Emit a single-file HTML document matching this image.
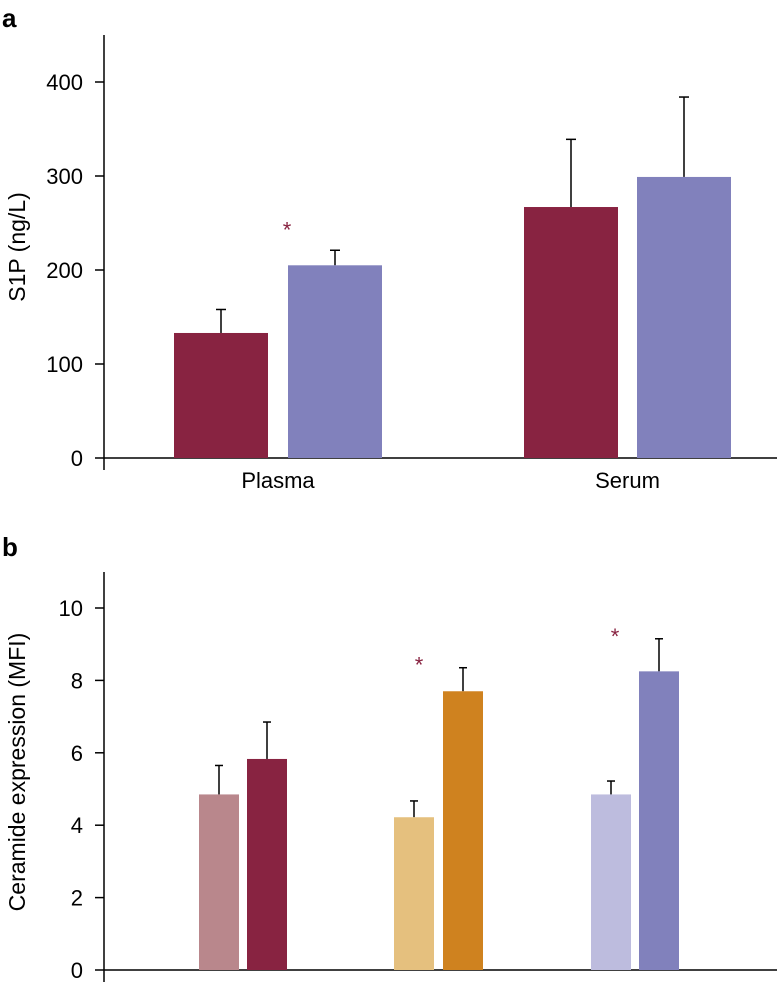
<!DOCTYPE html>
<html><head><meta charset="utf-8"><style>
body{margin:0;background:#fff}
text{font-family:"Liberation Sans",sans-serif}
</style></head><body>
<svg id="c" width="777" height="985" xmlns="http://www.w3.org/2000/svg"></svg>
<script>
const aGroups=["Plasma","Serum"];
const aValues=[133,205,267,299];
const aErrors=[158,221,339,384];
const aTicks=[0,100,200,300,400];
const aStars=[1];
const bValues=[4.85,5.83,4.22,7.7,4.85,8.25];
const bErrors=[5.65,6.85,4.67,8.35,5.22,9.15];
const bTicks=[0,2,4,6,8,10];
const bStars=[3,5];
const NS="http://www.w3.org/2000/svg";
const svg=document.getElementById('c');
function el(t,a,p){const e=document.createElementNS(NS,t);for(const k in a)e.setAttribute(k,a[k]);(p||svg).appendChild(e);return e;}
function txt(x,y,s,a,p){const e=el('text',Object.assign({x:x,y:y},a),p);e.textContent=s;return e;}
let t=txt(2,27,"a",{"font-size":26,"font-weight":"bold"});

t=txt(2,556,"b",{"font-size":26,"font-weight":"bold"});

// Panel a
const ya=v=>458-v*0.94;
let g=el('g',{});
el('line',{x1:104,y1:35,x2:104,y2:470,stroke:'#000','stroke-width':1.5},g);
el('line',{x1:104,y1:458,x2:777,y2:458,stroke:'#000','stroke-width':1.5},g);
aTicks.forEach(v=>{el('line',{x1:95,y1:ya(v),x2:104,y2:ya(v),stroke:'#000','stroke-width':1.5},g);
 txt(83,ya(v)+8,String(v),{"font-size":22,"text-anchor":"end"},g);});
t=txt(25,247,"S1P (ng/L)",{"font-size":23,"text-anchor":"middle",transform:"rotate(-90 25 247)"});

const aX=[174,288,524,637],aCol=['#882341','#8181bc','#882341','#8181bc'];
aValues.forEach((v,i)=>{
 const cx=aX[i]+47;
 const e=el('line',{x1:cx,y1:ya(v),x2:cx,y2:ya(aErrors[i]),stroke:'#000','stroke-width':1.5});
 
 el('line',{x1:cx-5,y1:ya(aErrors[i]),x2:cx+5,y2:ya(aErrors[i]),stroke:'#000','stroke-width':1.5});
 const r=el('rect',{x:aX[i],y:ya(v),width:94,height:458-ya(v),fill:aCol[i]});
 
});
aStars.forEach(i=>{const s=txt(aX[i]-1,ya(aErrors[i])-13,"*",{"font-size":22,fill:'#882341',"text-anchor":"middle"});
 });
aGroups.forEach((n,i)=>{const s=txt((aX[2*i]+aX[2*i+1]+94)/2,488,n,{"font-size":22,"text-anchor":"middle"});
 });
// Panel b
const yb=v=>970-v*36.2;
g=el('g',{});
el('line',{x1:104,y1:572,x2:104,y2:982,stroke:'#000','stroke-width':1.5},g);
el('line',{x1:104,y1:970,x2:777,y2:970,stroke:'#000','stroke-width':1.5},g);
bTicks.forEach(v=>{el('line',{x1:95,y1:yb(v),x2:104,y2:yb(v),stroke:'#000','stroke-width':1.5},g);
 txt(83,yb(v)+8,String(v),{"font-size":22,"text-anchor":"end"},g);});
t=txt(25,772,"Ceramide expression (MFI)",{"font-size":23,"text-anchor":"middle",transform:"rotate(-90 25 772)"});

const bX=[199,247,394,443,591,639],bCol=['#b9878c','#882341','#e5c07e','#cf821f','#bdbcde','#8181bc'];
bValues.forEach((v,i)=>{
 const cx=bX[i]+20;
 const e=el('line',{x1:cx,y1:yb(v),x2:cx,y2:yb(bErrors[i]),stroke:'#000','stroke-width':1.5});
 
 el('line',{x1:cx-4,y1:yb(bErrors[i]),x2:cx+4,y2:yb(bErrors[i]),stroke:'#000','stroke-width':1.5});
 const r=el('rect',{x:bX[i],y:yb(v),width:40,height:970-yb(v),fill:bCol[i]});
 
});
bStars.forEach(i=>{const s=txt(bX[i]-24,yb(bErrors[i])+5,"*",{"font-size":22,fill:'#882341',"text-anchor":"middle"});
 });
</script>
</body></html>
